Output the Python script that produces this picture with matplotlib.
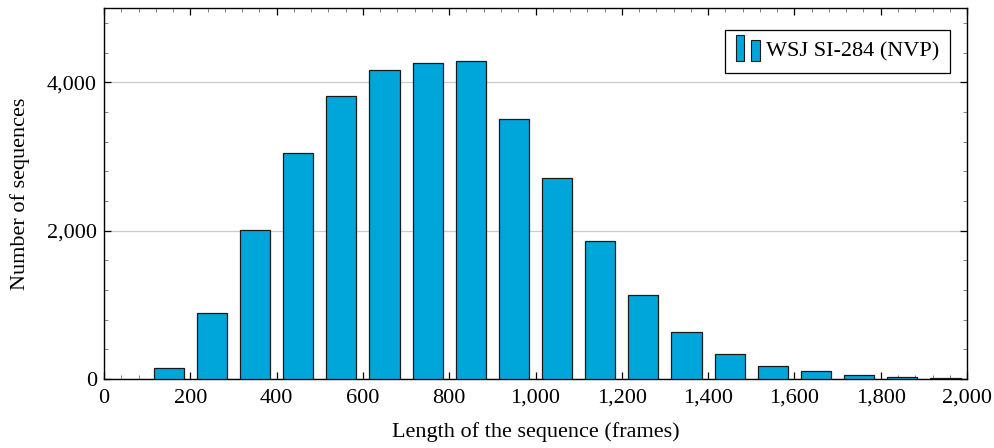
import numpy as np
import matplotlib
matplotlib.use("Agg")
import matplotlib.pyplot as plt
import matplotlib.ticker as ticker
from matplotlib.patches import Rectangle
from matplotlib.legend_handler import HandlerBase

plt.rcParams.update({
    "font.family": ["Liberation Serif", "DejaVu Serif"],
    "font.size": 16,
    "axes.linewidth": 1.0,
})

# bin centres (frames) and counts
lengths = [150, 250, 350, 450, 550, 650, 750, 850, 950, 1050,
           1150, 1250, 1350, 1450, 1550, 1650, 1750, 1850, 1950]
counts = [148, 889, 2010, 3040, 3810, 4160, 4265, 4280, 3500, 2715,
          1855, 1135, 635, 337, 175, 108, 56, 27, 13]

bar_color = "#00A6DA"
edge_color = "#1a1a1a"


class TwoBarHandler(HandlerBase):
    # pgfplots-style legend image: two little bars
    def create_artists(self, legend, orig_handle, xdescent, ydescent,
                       width, height, fontsize, trans):
        w = width * 0.36
        y0 = -ydescent - height * 0.3
        r1 = Rectangle((-xdescent, y0), w, height * 1.7,
                       facecolor=bar_color, edgecolor=edge_color, lw=0.8, transform=trans)
        r2 = Rectangle((-xdescent + width * 0.64, y0), w, height * 1.35,
                       facecolor=bar_color, edgecolor=edge_color, lw=0.8, transform=trans)
        return [r1, r2]


fig = plt.figure(figsize=(9.95, 4.48), dpi=100)
ax = fig.add_axes([0.1045, 0.154, 0.8674, 0.828])

bars = ax.bar(lengths, counts, width=70, color=bar_color, edgecolor=edge_color,
              linewidth=0.9, zorder=3, label="WSJ SI-284 (NVP)")

ax.set_xlim(0, 2000)
ax.set_ylim(0, 5000)
ax.xaxis.set_major_locator(ticker.MultipleLocator(200))
ax.xaxis.set_minor_locator(ticker.MultipleLocator(40))
ax.yaxis.set_major_locator(ticker.FixedLocator([0, 2000, 4000]))
ax.yaxis.set_minor_locator(ticker.MultipleLocator(400))
fmt = ticker.FuncFormatter(lambda v, p: f"{int(v):,}")
ax.xaxis.set_major_formatter(fmt)
ax.yaxis.set_major_formatter(fmt)

ax.tick_params(which="both", direction="in", top=True, right=True, labelsize=16)
ax.tick_params(which="major", length=5, width=0.9)
ax.tick_params(axis="x", which="major", pad=7)
ax.tick_params(axis="y", which="major", pad=5)
ax.tick_params(which="minor", length=3, width=0.7, color="#808080")

ax.yaxis.grid(True, which="major", color="#cccccc", lw=0.9, zorder=0)
ax.set_axisbelow(True)

ax.set_xlabel("Length of the sequence (frames)", fontsize=16, labelpad=10)
ax.set_ylabel("Number of sequences", fontsize=16, labelpad=12)

leg = ax.legend(handles=[bars], handler_map={type(bars): TwoBarHandler()},
                loc="upper right", bbox_to_anchor=(0.9803, 0.9407), borderaxespad=0,
                fontsize=16, fancybox=False, edgecolor="black", framealpha=1,
                handlelength=1.1, handletextpad=0.25, borderpad=0.5)
leg.get_frame().set_linewidth(0.9)

plt.savefig("out.png", dpi=100)
